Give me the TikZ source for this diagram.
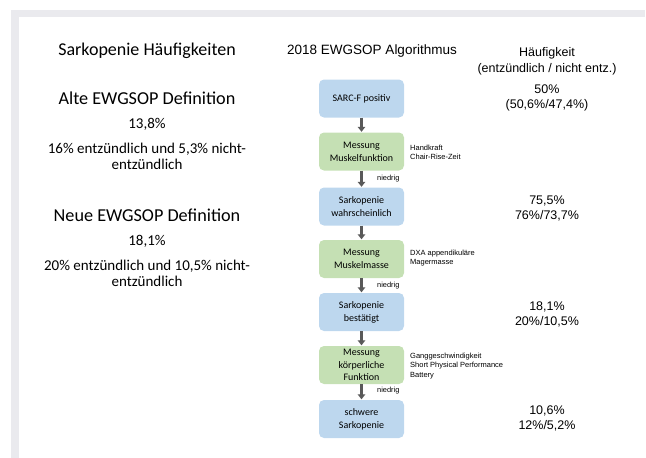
\documentclass[tikz,border=0pt]{standalone}
\usepackage{fontspec}
\setmainfont{Carlito}
\newfontfamily\arialf{Liberation Sans}
\usetikzlibrary{arrows.meta}
\definecolor{framegray}{RGB}{234,234,238}
\definecolor{boxblue}{RGB}{189,215,238}
\definecolor{boxgreen}{RGB}{197,224,180}
\definecolor{arrowgray}{RGB}{89,89,89}
\tikzset{
  stepbox/.style={rounded corners=5pt, minimum width=85pt, minimum height=38pt, inner sep=1pt, align=center, font=\fontsize{10}{13}\selectfont},
  bluebox/.style={stepbox, fill=boxblue},
  greenbox/.style={stepbox, fill=boxgreen},
  flowarrow/.style={draw=arrowgray, line width=2.4pt, -{Triangle[width=7.5pt,length=5pt]}, shorten >=0.5pt},
  sidelabel/.style={anchor=west, align=left, font=\arialf\fontsize{7.5}{9.2}\selectfont, inner sep=0pt},
  lowlabel/.style={anchor=west, font=\arialf\fontsize{7.4}{8}\selectfont, inner sep=0pt},
  coltitle/.style={font=\arialf\fontsize{12.5}{16}\selectfont, align=center, inner sep=0pt},
  valtext/.style={font=\arialf\fontsize{12.5}{15}\selectfont, align=center, inner sep=0pt},
  lefthead/.style={font=\fontsize{18.2}{21}\selectfont, inner sep=0pt},
  lefttext/.style={font=\fontsize{15}{15.5}\selectfont, align=center, inner sep=0pt},
}
\begin{document}
\begin{tikzpicture}[x=1pt,y=-1pt]
\useasboundingbox (0,0) rectangle (646,458);
\fill[framegray] (11,10) rectangle (645,17);
\fill[framegray] (11,10) rectangle (19,458);

% left column
\node[font=\fontsize{18}{21}\selectfont, inner sep=0pt] (lt) at (147,51) {Sarkopenie Häufigkeiten};
\node[lefthead] (alt) at (147,98) {Alte EWGSOP Definition};
\node[lefttext] (alt1) at (147,124) {13,8\%};
\node[lefttext] (alt2) at (147,156.5) {16\% entzündlich und 5,3\% nicht-\\entzündlich};
\node[lefthead] (neu) at (147,215) {Neue EWGSOP Definition};
\node[lefttext] (neu1) at (147,241) {18,1\%};
\node[lefttext] (neu2) at (147,273.5) {20\% entzündlich und 10,5\% nicht-\\entzündlich};

% middle column
\node[font=\arialf\fontsize{13.5}{16}\selectfont, inner sep=0pt] (mt) at (372,51) {2018 EWGSOP Algorithmus};
\node[bluebox] (b1) at (361.5,98.5) {SARC-F positiv};
\node[greenbox] (b2) at (361.5,151.5) {Messung\\Muskelfunktion};
\node[bluebox] (b3) at (361.5,206.5) {Sarkopenie\\wahrscheinlich};
\node[greenbox] (b4) at (361.5,259) {Messung\\Muskelmasse};
\node[bluebox] (b5) at (361.5,312) {Sarkopenie\\bestätigt};
\node[greenbox, font=\fontsize{10}{12.5}\selectfont] (b6) at (361.5,365) {Messung\\körperliche\\Funktion};
\node[bluebox] (b7) at (361.5,419) {schwere\\Sarkopenie};

\draw[flowarrow] (b1) -- (b2);
\draw[flowarrow] (b2) -- (b3);
\draw[flowarrow] (b3) -- (b4);
\draw[flowarrow] (b4) -- (b5);
\draw[flowarrow] (b5) -- (b6);
\draw[flowarrow] (b6) -- (b7);

\node[sidelabel] (s2) at (410,152.5) {Handkraft\\Chair-Rise-Zeit};
\node[sidelabel] (s4) at (410,258) {DXA appendikuläre\\Magermasse};
\node[sidelabel] (s6) at (410,366) {Ganggeschwindigkeit\\Short Physical Performance\\Battery};
\node[lowlabel] (n1) at (377,179) {niedrig};
\node[lowlabel] (n2) at (377,286) {niedrig};
\node[lowlabel] (n3) at (377,391) {niedrig};

% right column
\node[coltitle] (rt) at (547,61) {Häufigkeit\\(entzündlich / nicht entz.)};
\node[valtext] (r1) at (547,97.5) {50\%\\(50,6\%/47,4\%)};
\node[valtext] (r3) at (547,208) {75,5\%\\76\%/73,7\%};
\node[valtext] (r5) at (547,314) {18,1\%\\20\%/10,5\%};
\node[valtext] (r7) at (547,418) {10,6\%\\12\%/5,2\%};
\end{tikzpicture}
\end{document}
